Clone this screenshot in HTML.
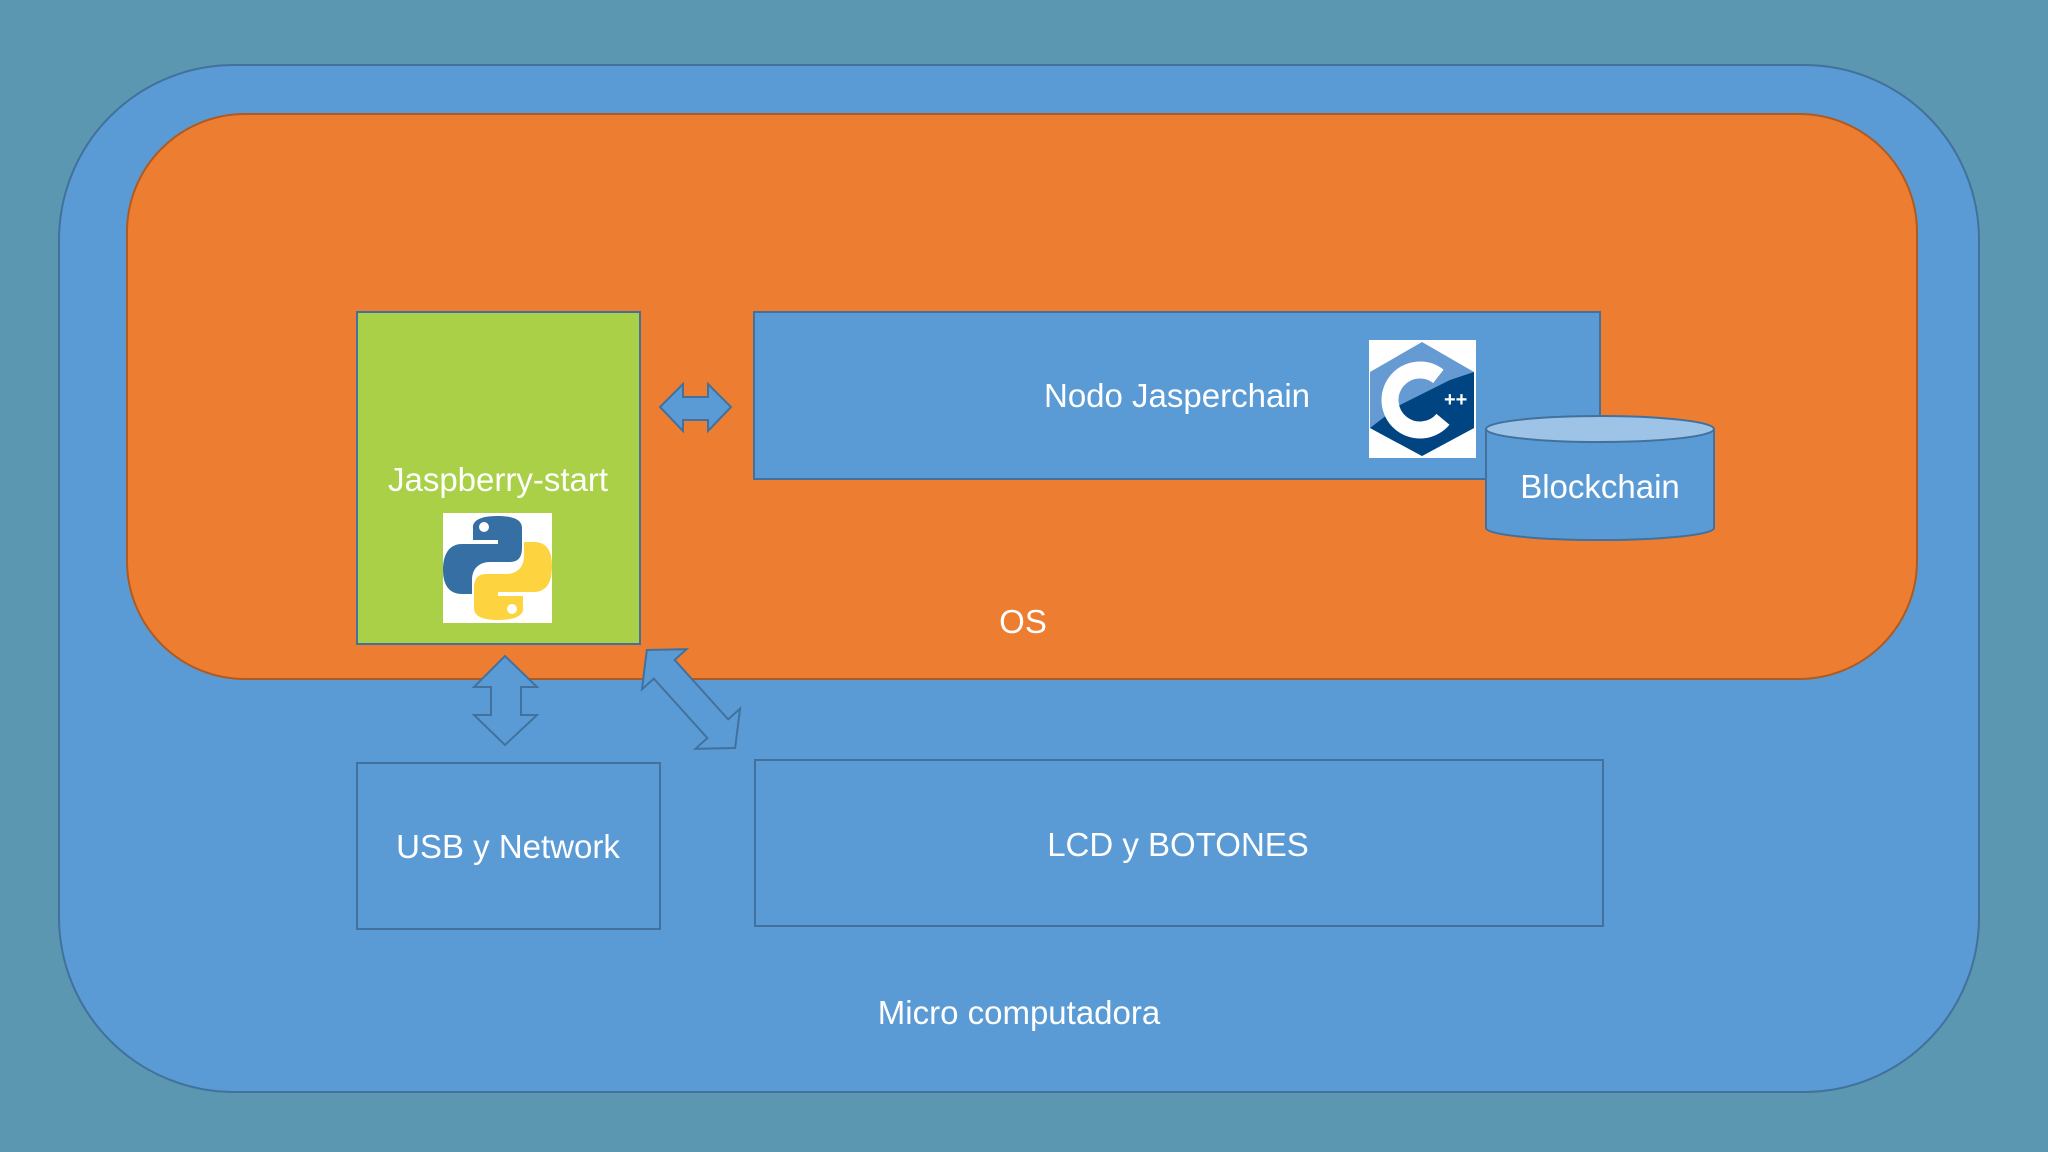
<!DOCTYPE html>
<html><head><meta charset="utf-8"><style>
html,body{margin:0;padding:0;background:#5b97b0;}
svg{display:block}
text{font-family:"Liberation Sans",sans-serif;fill:#fff;}
</style></head><body>
<svg width="2048" height="1152" viewBox="0 0 2048 1152" xmlns="http://www.w3.org/2000/svg">
<rect width="2048" height="1152" fill="#5b97b0"/>
<rect x="59" y="65" width="1920" height="1027" rx="175" fill="#5b9bd5" stroke="#41719c" stroke-width="2"/>
<rect x="127" y="114" width="1790" height="565" rx="118" fill="#ed7d31" stroke="#ae5a21" stroke-width="2"/>
<rect x="357" y="312" width="283" height="332" fill="#a9d046" stroke="#41719c" stroke-width="2"/>
<rect x="754" y="312" width="846" height="167" fill="#5b9bd5" stroke="#41719c" stroke-width="2"/>
<!-- C++ icon -->
<rect x="1369" y="340" width="107" height="118" fill="#fff"/>
<polygon points="1422,342 1474,372 1474,428 1422,456 1370,428 1370,372" fill="#659ad2"/>
<polygon points="1474,372 1474,428 1422,456 1370,428 1400,405 1450,380" fill="#004482"/>
<circle cx="1420" cy="400" r="30" fill="none" stroke="#fff" stroke-width="17" stroke-dasharray="140 60" transform="rotate(40 1420 400)"/>
<text x="1444" y="406" font-size="20" font-weight="bold">++</text>
<!-- cylinder -->
<path d="M1486 429 L1486 528 A114 12 0 0 0 1714 528 L1714 429" fill="#5b9bd5" stroke="#41719c" stroke-width="2"/>
<ellipse cx="1600" cy="429" rx="114" ry="13" fill="#9dc3e6" stroke="#41719c" stroke-width="2"/>
<!-- python icon -->
<rect x="443" y="513" width="109" height="110" fill="#fff"/>
<path d="M497 516 C470 516 473 528 473 528 L473 540 L498 540 L498 544 L462 544 C448 544 443 556 443 570 C443 586 450 594 462 594 L472 594 L472 580 C472 568 480 562 490 562 L510 562 C520 562 522 555 522 547 L522 528 C522 520 514 516 497 516 Z" fill="#366fa4"/>
<path d="M499 620 C526 620 523 608 523 608 L523 596 L498 596 L498 592 L534 592 C548 592 552 580 552 566 C552 550 546 542 534 542 L524 542 L524 556 C524 568 516 574 506 574 L486 574 C476 574 474 581 474 589 L474 608 C474 616 482 620 499 620 Z" fill="#fdd340"/>
<circle cx="484" cy="527" r="5" fill="#fff"/><circle cx="512" cy="609" r="5" fill="#fff"/>
<rect x="357" y="763" width="303" height="166" fill="#5b9bd5" stroke="#41719c" stroke-width="2"/>
<rect x="755" y="760" width="848" height="166" fill="#5b9bd5" stroke="#41719c" stroke-width="2"/>
<!-- arrows -->
<polygon points="660,407 683,384 683,397 708,397 708,384 731,407 708,431 708,420 683,420 683,431" fill="#5b9bd5" stroke="#41719c" stroke-width="2"/>
<polygon points="505,656 537,687 521,687 521,715 537,715 505,745 474,715 491,715 491,687 474,687" fill="#5b9bd5" stroke="#41719c" stroke-width="2"/>
<g transform="translate(691 699) rotate(48)">
<polygon points="-66,0 -40,-30 -40,-14 40,-14 40,-30 66,0 40,30 40,14 -40,14 -40,30" fill="#5b9bd5" stroke="#41719c" stroke-width="2"/>
</g>
<text x="1177" y="407" font-size="33" text-anchor="middle">Nodo Jasperchain</text>
<text x="498" y="491" font-size="33" text-anchor="middle">Jaspberry-start</text>
<text x="1600" y="498" font-size="33" text-anchor="middle">Blockchain</text>
<text x="1023" y="633" font-size="33" text-anchor="middle">OS</text>
<text x="508" y="858" font-size="33" text-anchor="middle">USB y Network</text>
<text x="1178" y="856" font-size="33" text-anchor="middle">LCD y BOTONES</text>
<text x="1019" y="1024" font-size="33" text-anchor="middle">Micro computadora</text>
</svg>
</body></html>
